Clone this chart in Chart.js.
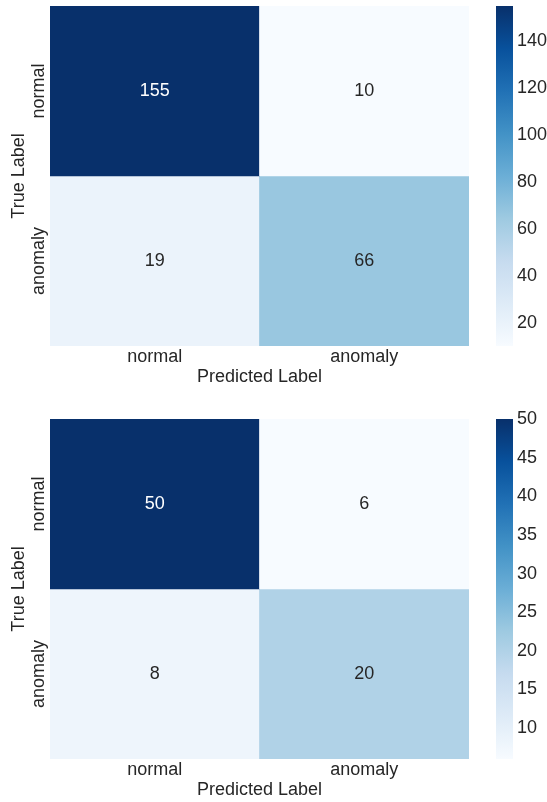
<!DOCTYPE html>
<html>
<head>
<meta charset="utf-8">
<title>Confusion matrices</title>
<script src="https://cdn.jsdelivr.net/npm/chart.js@4.4.0/dist/chart.umd.min.js"></script>
<style>
  html, body { margin: 0; padding: 0; background: #ffffff; width: 547px; height: 802px; overflow: hidden; }
  canvas { position: absolute; display: block; }
</style>
</head>
<body>
<canvas id="cmFirst"></canvas>
<canvas id="cbFirst"></canvas>
<canvas id="cmSecond"></canvas>
<canvas id="cbSecond"></canvas>
<script>
// Class names on each axis
const predictedLabels = ['normal', 'anomaly'];
const trueLabels = ['normal', 'anomaly'];

// First confusion matrix, one array per true-label row
const firstNormalRow = [155, 10];
const firstAnomalyRow = [19, 66];

// Second confusion matrix
const secondNormalRow = [50, 6];
const secondAnomalyRow = [8, 20];

// Colorbar tick values
const firstBarTicks = [20, 40, 60, 80, 100, 120, 140];
const secondBarTicks = [10, 15, 20, 25, 30, 35, 40, 45, 50];

const FONT_FAMILY = '"Liberation Sans", Arial, Helvetica, sans-serif';
const FONT_SIZE = 18;
const TEXT_DARK = '#262626';
Chart.defaults.font.family = FONT_FAMILY;
Chart.defaults.font.size = FONT_SIZE;
Chart.defaults.color = TEXT_DARK;

// "Blues" sequential palette, evenly spaced stops from low to high
const BLUES = ['#f7fbff', '#deebf7', '#c6dbef', '#9ecae1', '#6baed6',
               '#4292c6', '#2171b5', '#08519c', '#08306b'];

function hexToRgb(h) {
  const n = parseInt(h.slice(1), 16);
  return [(n >> 16) & 255, (n >> 8) & 255, n & 255];
}
const BLUES_RGB = BLUES.map(hexToRgb);

function bluesRgb(t) {
  t = Math.max(0, Math.min(1, t));
  const pos = t * (BLUES_RGB.length - 1);
  const i = Math.min(Math.floor(pos), BLUES_RGB.length - 2);
  const f = pos - i;
  const a = BLUES_RGB[i], b = BLUES_RGB[i + 1];
  return [0, 1, 2].map(k => Math.round(a[k] + (b[k] - a[k]) * f));
}
function bluesCss(t) {
  const c = bluesRgb(t);
  return `rgb(${c[0]},${c[1]},${c[2]})`;
}
// Relative luminance decides whether the annotation is dark or white
function luminance(rgb) {
  const lin = rgb.map(v => {
    v /= 255;
    return v <= 0.03928 ? v / 12.92 : Math.pow((v + 0.055) / 1.055, 2.4);
  });
  return 0.2126 * lin[0] + 0.7152 * lin[1] + 0.0722 * lin[2];
}

// Layout of each panel (canvas-local pixels)
const PANEL_W = 480;
const PANEL_H = 390;
const PLOT_TOP = 6;
const PLOT_RIGHT_PAD = 11;
const Y_AXIS_W = 50;
const X_AXIS_H = PANEL_H - 346;
const BAR_W = 67;

// Rotated row labels are centred at this x
const ROW_LABEL_X = 38.8;
const probe = document.createElement('canvas').getContext('2d');
probe.font = `${FONT_SIZE}px ${FONT_FAMILY}`;
const widestRowLabel = Math.max(...trueLabels.map(t => probe.measureText(t).width));
const rowLabelPadding = Y_AXIS_W - ROW_LABEL_X - widestRowLabel / 2;

// Writes each cell's count in its centre
const cellText = {
  id: 'cellText',
  afterDatasetsDraw(chart) {
    const ctx = chart.ctx;
    ctx.save();
    ctx.font = `${FONT_SIZE}px ${FONT_FAMILY}`;
    ctx.textAlign = 'center';
    ctx.textBaseline = 'middle';
    chart.data.datasets.forEach((ds, di) => {
      const meta = chart.getDatasetMeta(di);
      meta.data.forEach((bar, j) => {
        const raw = ds.data[j];
        const p = bar.getProps(['x', 'y', 'base'], true);
        const rgb = bluesRgb(raw.t);
        ctx.fillStyle = luminance(rgb) > 0.408 ? TEXT_DARK : '#ffffff';
        ctx.fillText(String(raw.v), p.x, (p.y + p.base) / 2);
      });
    });
    ctx.restore();
  }
};

function buildMatrix(canvasId, top, rows) {
  const all = rows.flat();
  const vmin = Math.min(...all), vmax = Math.max(...all);
  const n = trueLabels.length;
  const datasets = rows.map((row, i) => ({
    label: trueLabels[i],
    data: predictedLabels.map((p, j) => ({
      x: p,
      y: [n - 1 - i, n - i],
      v: row[j],
      t: (row[j] - vmin) / (vmax - vmin)
    })),
    backgroundColor: c => bluesCss(c.raw.t),
    borderWidth: 0,
    borderSkipped: false,
    grouped: false,
    barPercentage: 1,
    categoryPercentage: 1
  }));

  const el = document.getElementById(canvasId);
  el.width = PANEL_W; el.height = PANEL_H;
  el.style.left = '0px'; el.style.top = top + 'px';
  el.style.width = PANEL_W + 'px'; el.style.height = PANEL_H + 'px';

  new Chart(el, {
    type: 'bar',
    data: { labels: predictedLabels, datasets },
    plugins: [cellText],
    options: {
      responsive: false,
      animation: false,
      events: [],
      layout: { padding: { left: 0, top: PLOT_TOP, right: PLOT_RIGHT_PAD, bottom: 0 } },
      plugins: { legend: { display: false }, tooltip: { enabled: false } },
      scales: {
        x: {
          type: 'category',
          offset: true,
          grid: { display: false, drawTicks: false },
          border: { display: false },
          ticks: { padding: 0, color: TEXT_DARK, font: { size: FONT_SIZE } },
          title: {
            display: true, text: 'Predicted Label', color: TEXT_DARK,
            font: { size: FONT_SIZE }, padding: { top: 0, bottom: 2 }
          },
          afterFit: s => { s.height = X_AXIS_H; }
        },
        y: {
          type: 'linear',
          min: 0, max: n,
          grid: { display: false, drawTicks: false },
          border: { display: false },
          afterBuildTicks: s => {
            s.ticks = trueLabels.map((_, i) => ({ value: n - 1 - i + 0.5 }));
          },
          ticks: {
            callback: v => trueLabels[n - 1 - Math.floor(v)],
            minRotation: 90, maxRotation: 90,
            crossAlign: 'center',
            padding: rowLabelPadding,
            color: TEXT_DARK, font: { size: FONT_SIZE }
          },
          title: {
            display: true, text: 'True Label', color: TEXT_DARK,
            font: { size: FONT_SIZE }, padding: { top: 8, bottom: 0 }
          },
          afterFit: s => { s.width = Y_AXIS_W; }
        }
      }
    }
  });
  return { vmin, vmax };
}

function buildColorbar(canvasId, top, range, tickValues) {
  const el = document.getElementById(canvasId);
  const h = PANEL_H + 10;
  el.width = BAR_W; el.height = h;
  el.style.left = PANEL_W + 'px'; el.style.top = (top - 10) + 'px';
  el.style.width = BAR_W + 'px'; el.style.height = h + 'px';

  new Chart(el, {
    type: 'bar',
    data: {
      labels: [''],
      datasets: [{
        data: [[range.vmin, range.vmax]],
        backgroundColor: c => {
          const area = c.chart.chartArea;
          if (!area) return BLUES[4];
          const g = c.chart.ctx.createLinearGradient(0, area.bottom, 0, area.top);
          BLUES.forEach((col, k) => g.addColorStop(k / (BLUES.length - 1), col));
          return g;
        },
        borderWidth: 0,
        borderSkipped: false,
        barPercentage: 1,
        categoryPercentage: 1
      }]
    },
    options: {
      responsive: false,
      animation: false,
      events: [],
      layout: { padding: { left: 16, top: PLOT_TOP + 10, right: 0, bottom: X_AXIS_H } },
      plugins: { legend: { display: false }, tooltip: { enabled: false } },
      scales: {
        x: { display: false },
        y: {
          position: 'right',
          min: range.vmin, max: range.vmax,
          grid: { display: false, drawTicks: false },
          border: { display: false },
          afterBuildTicks: s => { s.ticks = tickValues.map(v => ({ value: v })); },
          ticks: { padding: 4, color: TEXT_DARK, font: { size: FONT_SIZE } },
          afterFit: s => { s.width = BAR_W - 16 - 17; }
        }
      }
    }
  });
}

const firstRange = buildMatrix('cmFirst', 0, [firstNormalRow, firstAnomalyRow]);
buildColorbar('cbFirst', 0, firstRange, firstBarTicks);
const secondRange = buildMatrix('cmSecond', 413, [secondNormalRow, secondAnomalyRow]);
buildColorbar('cbSecond', 413, secondRange, secondBarTicks);
</script>
</body>
</html>
